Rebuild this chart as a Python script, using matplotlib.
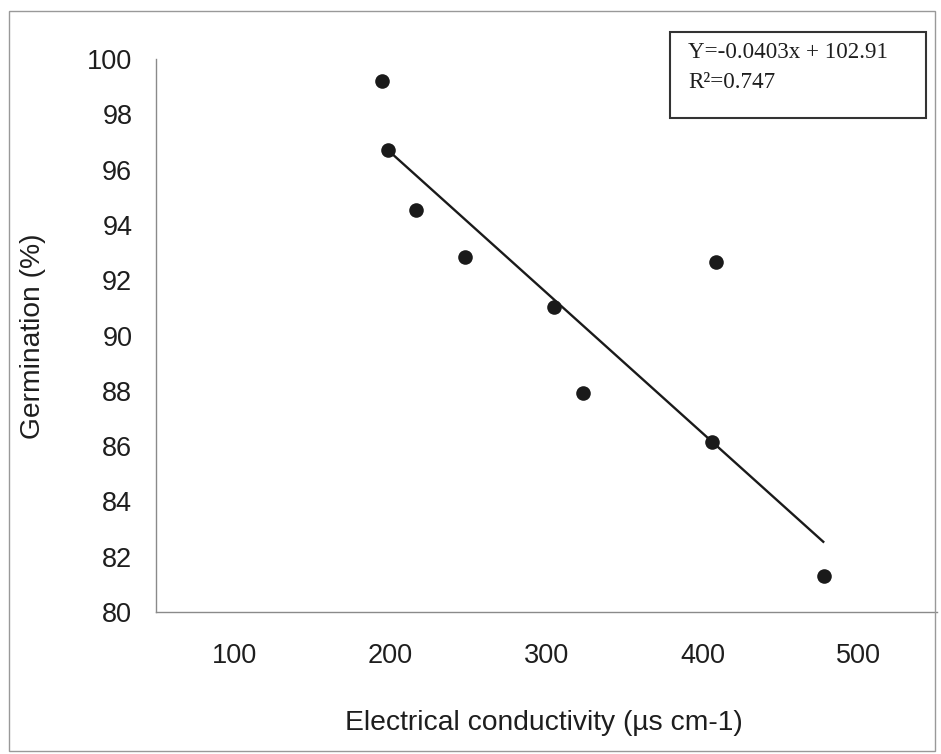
import matplotlib
matplotlib.use("Agg")
import matplotlib.pyplot as plt
from matplotlib.patches import Rectangle

# Data
conductivity = [194.5, 198.8, 216.3, 247.8, 304.8, 323.6, 408.3, 406.1, 477.8]
germination = [99.22, 96.71, 94.54, 92.84, 91.02, 87.91, 92.65, 86.14, 81.31]
trend_x = [199.8, 477.2]
trend_y = [96.64, 82.54]
x_ticks = [100, 200, 300, 400, 500]
y_ticks = [80, 82, 84, 86, 88, 90, 92, 94, 96, 98, 100]
equation_text = "Y=-0.0403x + 102.91"
r2_text = "R²=0.747"

W, H = 941, 754
fig = plt.figure(figsize=(W / 100, H / 100), dpi=100)
fig.patch.set_facecolor("white")

def fx(px):
    return px / W

def fy(py):
    return 1 - py / H

ax = fig.add_axes([fx(155.9), fy(612), fx(937) - fx(155.9), fy(59) - fy(612)])
ax.set_xlim(50, 550)
ax.set_ylim(80, 100)

ax.plot(trend_x, trend_y, color="#1a1a1a", lw=1.7, zorder=2)
ax.plot(conductivity, germination, "o", color="#1a1a1a", ms=10.5, zorder=3,
        markeredgewidth=0)

for s in ["top", "right"]:
    ax.spines[s].set_visible(False)
for s in ["left", "bottom"]:
    ax.spines[s].set_color("#8a8a8a")
    ax.spines[s].set_linewidth(1.0)

ax.set_xticks(x_ticks)
ax.set_yticks(y_ticks)
ax.set_xticklabels([str(v) for v in x_ticks], fontsize=19.5,
                   fontfamily="Liberation Sans", color="#1e1e1e")
ax.set_yticklabels([str(v) for v in y_ticks], fontsize=19.5,
                   fontfamily="Liberation Sans", color="#1e1e1e")
ax.tick_params(axis="x", length=0, pad=22)
ax.tick_params(axis="y", length=0, pad=17)

fig.text(fx(544), fy(723), "Electrical conductivity (µs cm-1)", fontsize=20.3,
         fontfamily="Liberation Sans", color="#1e1e1e", ha="center", va="center")
fig.text(fx(33), fy(336), "Germination (%)", fontsize=20.3, rotation=90,
         fontfamily="Liberation Sans", color="#1e1e1e", ha="center", va="center")

# Equation box
fig.patches.append(Rectangle((fx(670), fy(118)), fx(926) - fx(670), fy(32) - fy(118),
                             transform=fig.transFigure, fill=False,
                             edgecolor="#333333", linewidth=1.5))
fig.text(fx(688), fy(52), equation_text, fontsize=16.6, fontfamily="Liberation Serif",
         color="#1e1e1e", ha="left", va="center")
fig.text(fx(688), fy(82), r2_text, fontsize=16.6, fontfamily="Liberation Serif",
         color="#1e1e1e", ha="left", va="center")

# Outer frame
fig.patches.append(Rectangle((fx(9), fy(751)), fx(935) - fx(9), fy(11) - fy(751),
                             transform=fig.transFigure, fill=False,
                             edgecolor="#999999", linewidth=1.0))

fig.savefig("out.png", dpi=100)
